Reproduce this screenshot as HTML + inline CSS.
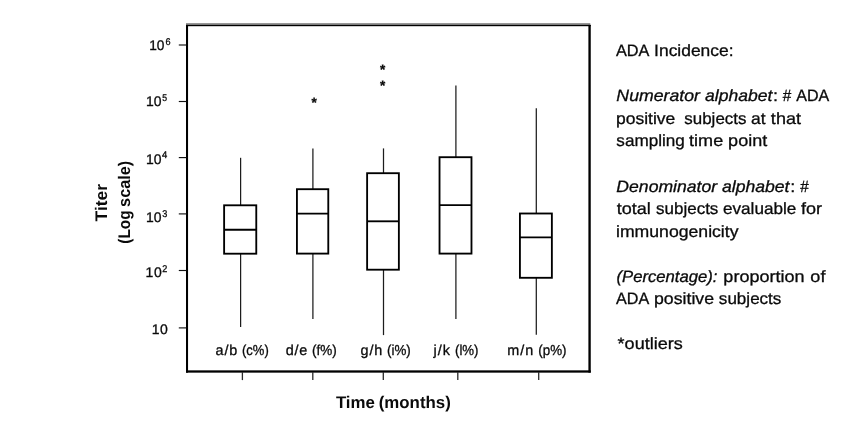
<!DOCTYPE html>
<html lang="en">
<head>
<meta charset="utf-8">
<title>ADA titer box plot</title>
<style>
html,body{margin:0;padding:0;background:#fff;}
body{width:860px;height:422px;overflow:hidden;}
svg{display:block;}
text{font-family:"Liberation Sans",sans-serif;fill:#0a0a0a;white-space:pre;text-rendering:geometricPrecision;}
</style>
</head>
<body>
<svg width="860" height="422" viewBox="0 0 860 422">
<rect x="0" y="0" width="860" height="422" fill="#ffffff"/>
<g fill="#000">
<rect x="186" y="23.1" width="404.3" height="1.9" fill="#8c8c8c"/>
<rect x="186" y="24.9" width="404.8" height="1.3"/>
<rect x="186" y="24.9" width="2.05" height="347.75"/>
<rect x="588.4" y="24.9" width="2.35" height="347.75"/>
<rect x="186" y="370.35" width="404.75" height="2.3"/>
</g>
<g stroke="#111" stroke-width="1.15">
<line x1="178.8" y1="45.0" x2="186.5" y2="45.0"/>
<line x1="178.8" y1="101.5" x2="186.5" y2="101.5"/>
<line x1="178.8" y1="157.6" x2="186.5" y2="157.6"/>
<line x1="178.8" y1="213.9" x2="186.5" y2="213.9"/>
<line x1="178.8" y1="270.5" x2="186.5" y2="270.5"/>
<line x1="178.8" y1="327.9" x2="186.5" y2="327.9"/>
</g>
<g stroke="#2a2a2a" stroke-width="1.3">
<line x1="242.4" y1="372" x2="242.4" y2="380.1"/>
<line x1="312.8" y1="372" x2="312.8" y2="380.1"/>
<line x1="383.3" y1="372" x2="383.3" y2="380.1"/>
<line x1="457.8" y1="372" x2="457.8" y2="380.1"/>
<line x1="538.7" y1="372" x2="538.7" y2="380.1"/>
</g>
<g stroke="#1c1c1c" stroke-width="1.25">
<line x1="240.6" y1="157.8" x2="240.6" y2="205.3"/>
<line x1="240.6" y1="253.7" x2="240.6" y2="327.0"/>
<line x1="312.9" y1="148.4" x2="312.9" y2="189.2"/>
<line x1="312.9" y1="253.6" x2="312.9" y2="319.1"/>
<line x1="383.5" y1="148.4" x2="383.5" y2="173.2"/>
<line x1="383.5" y1="269.7" x2="383.5" y2="335.1"/>
<line x1="455.9" y1="85.5" x2="455.9" y2="157.2"/>
<line x1="455.9" y1="253.6" x2="455.9" y2="319.1"/>
<line x1="536.3" y1="108.2" x2="536.3" y2="213.5"/>
<line x1="536.3" y1="277.8" x2="536.3" y2="334.8"/>
</g>
<g fill="#fff" stroke="#000" stroke-width="1.85">
<rect x="224.12" y="205.30" width="32.15" height="48.40"/>
<line x1="224.12" y1="229.70" x2="256.27" y2="229.70"/>
<rect x="296.93" y="189.20" width="31.35" height="64.40"/>
<line x1="296.93" y1="213.60" x2="328.27" y2="213.60"/>
<rect x="367.12" y="173.20" width="31.75" height="96.50"/>
<line x1="367.12" y1="221.30" x2="398.88" y2="221.30"/>
<rect x="439.53" y="157.20" width="31.95" height="96.40"/>
<line x1="439.53" y1="205.10" x2="471.47" y2="205.10"/>
<rect x="519.92" y="213.50" width="31.95" height="64.30"/>
<line x1="519.92" y1="237.40" x2="551.88" y2="237.40"/>
</g>
<g font-size="13.5" font-weight="bold" text-anchor="middle" stroke="#0a0a0a" stroke-width="0.3">
<text x="314.2" y="106.5">*</text>
<text x="382.6" y="74.1">*</text>
<text x="382.6" y="90.1">*</text>
</g>
<g>
<text y="55.50" font-size="16.4" stroke="#0a0a0a" stroke-width="0.3"><tspan x="616.00" textLength="32.53" lengthAdjust="spacingAndGlyphs">ADA</tspan> <tspan x="654.12" textLength="79.36" lengthAdjust="spacingAndGlyphs">Incidence:</tspan></text>
<text y="101.30" font-size="16.4" stroke="#0a0a0a" stroke-width="0.3"><tspan x="616.38" textLength="83.50" lengthAdjust="spacingAndGlyphs" font-style="italic">Numerator</tspan> <tspan x="705.00" textLength="67.25" lengthAdjust="spacingAndGlyphs" font-style="italic">alphabet</tspan><tspan x="773.00" textLength="5.01" lengthAdjust="spacingAndGlyphs">:</tspan> <tspan x="782.75" textLength="8.50" lengthAdjust="spacingAndGlyphs">#</tspan> <tspan x="796.25" textLength="33.00" lengthAdjust="spacingAndGlyphs">ADA</tspan></text>
<text y="123.80" font-size="16.4" stroke="#0a0a0a" stroke-width="0.3"><tspan x="616.00" textLength="59.29" lengthAdjust="spacingAndGlyphs">positive</tspan>  <tspan x="684.38" textLength="62.01" lengthAdjust="spacingAndGlyphs">subjects</tspan> <tspan x="751.00" textLength="14.52" lengthAdjust="spacingAndGlyphs">at</tspan> <tspan x="770.88" textLength="30.07" lengthAdjust="spacingAndGlyphs">that</tspan></text>
<text y="146.30" font-size="16.4" stroke="#0a0a0a" stroke-width="0.3"><tspan x="616.38" textLength="68.52" lengthAdjust="spacingAndGlyphs">sampling</tspan> <tspan x="689.12" textLength="34.06" lengthAdjust="spacingAndGlyphs">time</tspan> <tspan x="728.12" textLength="39.10" lengthAdjust="spacingAndGlyphs">point</tspan></text>
<text y="191.50" font-size="16.4" stroke="#0a0a0a" stroke-width="0.3"><tspan x="616.38" textLength="100.75" lengthAdjust="spacingAndGlyphs" font-style="italic">Denominator</tspan> <tspan x="722.00" textLength="67.50" lengthAdjust="spacingAndGlyphs" font-style="italic">alphabet</tspan><tspan x="790.25" textLength="5.01" lengthAdjust="spacingAndGlyphs">:</tspan> <tspan x="800.25" textLength="8.50" lengthAdjust="spacingAndGlyphs">#</tspan></text>
<text y="214.00" font-size="16.4" stroke="#0a0a0a" stroke-width="0.3"><tspan x="616.75" textLength="34.08" lengthAdjust="spacingAndGlyphs">total</tspan> <tspan x="656.12" textLength="62.26" lengthAdjust="spacingAndGlyphs">subjects</tspan> <tspan x="723.00" textLength="73.26" lengthAdjust="spacingAndGlyphs">evaluable</tspan> <tspan x="801.00" textLength="21.04" lengthAdjust="spacingAndGlyphs">for</tspan></text>
<text y="236.50" font-size="16.4" stroke="#0a0a0a" stroke-width="0.3"><tspan x="616.00" textLength="122.51" lengthAdjust="spacingAndGlyphs">immunogenicity</tspan></text>
<text y="281.60" font-size="16.4" stroke="#0a0a0a" stroke-width="0.3"><tspan x="616.50" textLength="101.01" lengthAdjust="spacingAndGlyphs" font-style="italic">(Percentage):</tspan> <tspan x="723.38" textLength="81.19" lengthAdjust="spacingAndGlyphs">proportion</tspan> <tspan x="810.38" textLength="15.04" lengthAdjust="spacingAndGlyphs">of</tspan></text>
<text y="304.00" font-size="16.4" stroke="#0a0a0a" stroke-width="0.3"><tspan x="616.00" textLength="32.28" lengthAdjust="spacingAndGlyphs">ADA</tspan> <tspan x="654.00" textLength="60.04" lengthAdjust="spacingAndGlyphs">positive</tspan> <tspan x="718.88" textLength="62.51" lengthAdjust="spacingAndGlyphs">subjects</tspan></text>
<text y="349.45" font-size="16.4" stroke="#0a0a0a" stroke-width="0.3"><tspan x="617.62" textLength="65.14" lengthAdjust="spacingAndGlyphs">*outliers</tspan></text>
<text y="354.60" font-size="14.4" stroke="#0a0a0a" stroke-width="0.3"><tspan x="215.50" textLength="21.75" lengthAdjust="spacing">a/b</tspan> <tspan x="242.00" textLength="26.75" lengthAdjust="spacingAndGlyphs">(c%)</tspan></text>
<text y="354.60" font-size="14.4" stroke="#0a0a0a" stroke-width="0.3"><tspan x="285.75" textLength="21.50" lengthAdjust="spacing">d/e</tspan> <tspan x="312.00" textLength="24.75" lengthAdjust="spacingAndGlyphs">(f%)</tspan></text>
<text y="354.60" font-size="14.4" stroke="#0a0a0a" stroke-width="0.3"><tspan x="360.62" textLength="21.75" lengthAdjust="spacing">g/h</tspan> <tspan x="387.00" textLength="23.75" lengthAdjust="spacingAndGlyphs">(i%)</tspan></text>
<text y="354.60" font-size="14.4" stroke="#0a0a0a" stroke-width="0.3"><tspan x="433.62" textLength="16.25" lengthAdjust="spacing">j/k</tspan> <tspan x="455.00" textLength="23.50" lengthAdjust="spacingAndGlyphs">(l%)</tspan></text>
<text y="354.60" font-size="14.4" stroke="#0a0a0a" stroke-width="0.3"><tspan x="507.25" textLength="26.00" lengthAdjust="spacing">m/n</tspan> <tspan x="538.25" textLength="28.25" lengthAdjust="spacingAndGlyphs">(p%)</tspan></text>
<text y="50.00" font-size="14.0" stroke="#0a0a0a" stroke-width="0.3"><tspan x="149.25" textLength="15.25" lengthAdjust="spacingAndGlyphs">10</tspan><tspan x="165.50" textLength="5.06" lengthAdjust="spacingAndGlyphs" y="44.60" font-size="9.7">6</tspan></text>
<text y="106.00" font-size="14.0" stroke="#0a0a0a" stroke-width="0.3"><tspan x="146.00" textLength="15.50" lengthAdjust="spacingAndGlyphs">10</tspan><tspan x="162.25" textLength="4.85" lengthAdjust="spacingAndGlyphs" y="101.00" font-size="9.7">5</tspan></text>
<text y="164.00" font-size="14.0" stroke="#0a0a0a" stroke-width="0.3"><tspan x="146.00" textLength="15.50" lengthAdjust="spacingAndGlyphs">10</tspan><tspan x="162.12" textLength="5.26" lengthAdjust="spacingAndGlyphs" y="158.00" font-size="9.7">4</tspan></text>
<text y="222.00" font-size="14.0" stroke="#0a0a0a" stroke-width="0.3"><tspan x="146.00" textLength="15.50" lengthAdjust="spacingAndGlyphs">10</tspan><tspan x="162.25" textLength="5.06" lengthAdjust="spacingAndGlyphs" y="216.90" font-size="9.7">3</tspan></text>
<text y="277.30" font-size="14.0" stroke="#0a0a0a" stroke-width="0.3"><tspan x="145.50" textLength="16.25" lengthAdjust="spacing">10</tspan><tspan x="162.25" textLength="5.06" lengthAdjust="spacingAndGlyphs" y="272.00" font-size="9.7">2</tspan></text>
<text y="334.00" font-size="14.0" stroke="#0a0a0a" stroke-width="0.3"><tspan x="151.75" textLength="16.00" lengthAdjust="spacing">10</tspan></text>
<text y="408.35" font-size="16.8" font-weight="bold"><tspan x="335.88" textLength="39.02" lengthAdjust="spacingAndGlyphs">Time</tspan> <tspan x="378.75" textLength="72.03" lengthAdjust="spacingAndGlyphs">(months)</tspan></text>
<text transform="translate(106.60 0) rotate(-90)" font-size="16.8" font-weight="bold"><tspan x="-221.40" textLength="37.31" lengthAdjust="spacingAndGlyphs">Titer</tspan></text>
<text transform="translate(129.50 0) rotate(-90)" font-size="16.8" font-weight="bold"><tspan x="-243.70" textLength="33.29" lengthAdjust="spacingAndGlyphs">(Log</tspan> <tspan x="-206.92" textLength="46.20" lengthAdjust="spacingAndGlyphs">scale)</tspan></text>
</g>
</svg>
</body>
</html>
